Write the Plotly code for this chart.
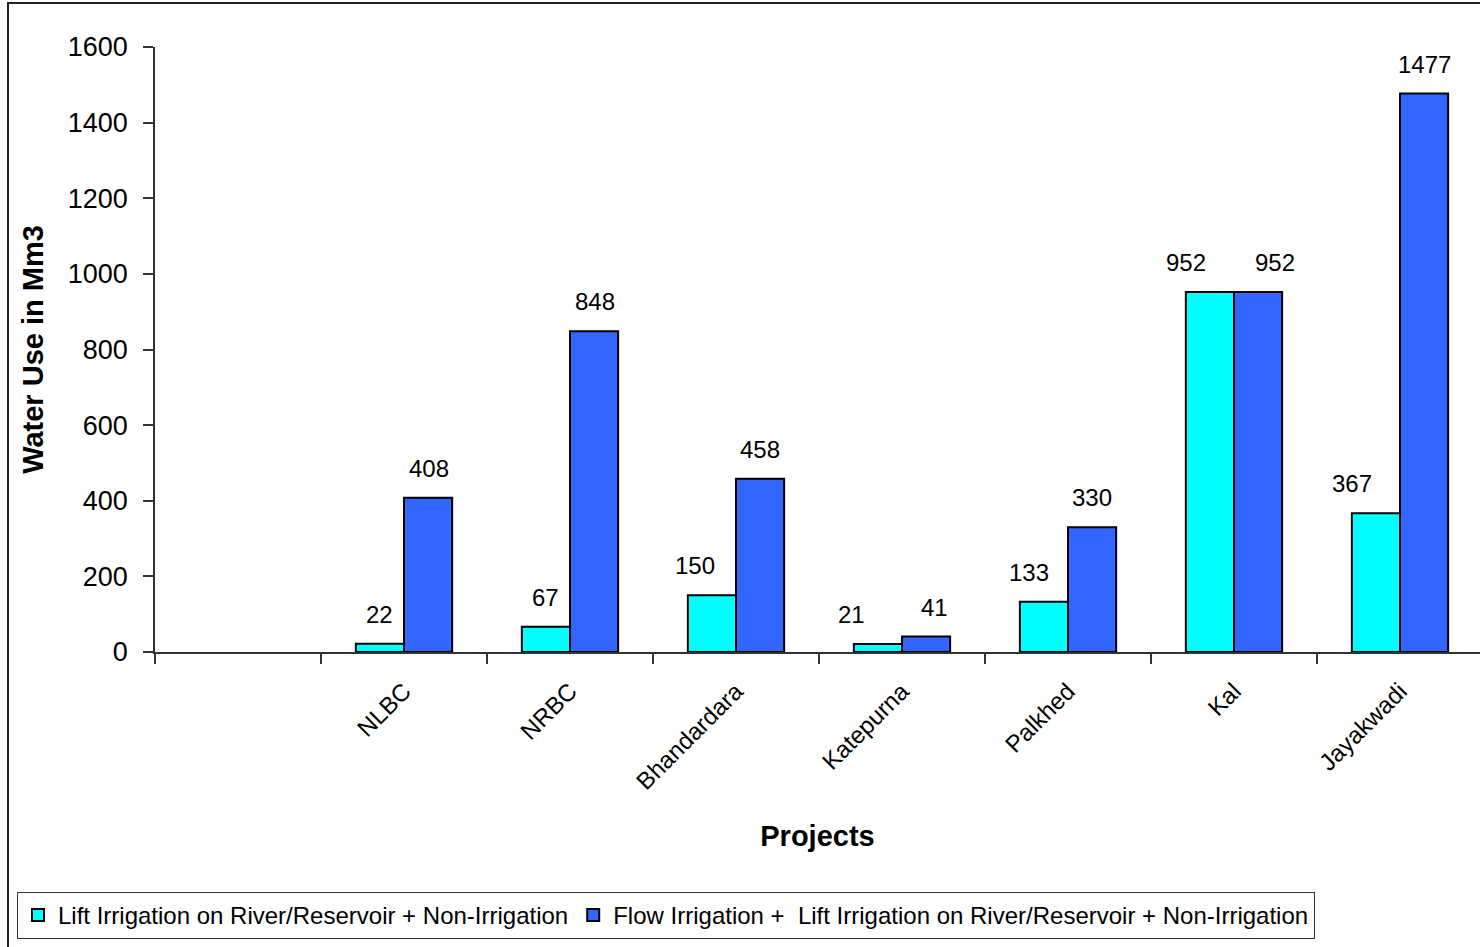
import plotly.graph_objects as go

categories = [" ", "NLBC", "NRBC", "Bhandardara", "Katepurna", "Palkhed", "Kal", "Jayakwadi"]
lift_non_irr = [None, 22, 67, 150, 21, 133, 952, 367]
flow_lift_non_irr = [None, 408, 848, 458, 41, 330, 952, 1477]
y_ticks = [0, 200, 400, 600, 800, 1000, 1200, 1400, 1600]

# horizontal nudges (px) of the value labels, as placed in the original chart
lift_label_nudge = [0, 0, 0, -17, -26, -15, -24, -24]
flow_label_nudge = [0, 1, 1, 0, 8, 0, 17, 0]

name1 = "Lift Irrigation on River/Reservoir + Non-Irrigation"
name2 = "Flow Irrigation + \u00a0Lift Irrigation on River/Reservoir + Non-Irrigation"

FONT = "Liberation Sans, Arial, sans-serif"
W, H = 1480, 947
ML, MR, MT, MB = 155, 0, 47, 295
plot_w = W - ML - MR
cat_px = 166.0
x_end = -0.5 + plot_w / cat_px
bargap = 0.42
bar_px = cat_px * (1 - bargap) / 2

fig = go.Figure()
fig.add_trace(go.Bar(x=categories, y=lift_non_irr, name=name1,
                     marker=dict(color="#00FFFF", line=dict(color="black", width=2))))
fig.add_trace(go.Bar(x=categories, y=flow_lift_non_irr, name=name2,
                     marker=dict(color="#3366FF", line=dict(color="black", width=2))))

annotations = []
for series, nudges, shift in ((lift_non_irr, lift_label_nudge, -bar_px / 2),
                              (flow_lift_non_irr, flow_label_nudge, bar_px / 2)):
    for c, v, n in zip(categories, series, nudges):
        if v is None:
            continue
        annotations.append(dict(x=c, y=v, xref="x", yref="y", text=str(v), showarrow=False,
                                xshift=shift + n, yshift=14, yanchor="bottom", xanchor="center",
                                font=dict(size=24, color="black", family=FONT)))

fig.update_layout(
    width=W, height=H,
    margin=dict(l=ML, r=MR, t=MT, b=MB, pad=0),
    paper_bgcolor="white", plot_bgcolor="white",
    font=dict(family=FONT, color="black"),
    barmode="group", bargap=bargap, bargroupgap=0,
    showlegend=True,
    legend=dict(orientation="h", xref="container", yref="container",
                x=17 / W, y=1 - 892 / H, xanchor="left", yanchor="top",
                bordercolor="#333333", borderwidth=1, bgcolor="white",
                font=dict(size=24, family=FONT), itemsizing="constant",
                traceorder="normal"),
    annotations=annotations,
    shapes=[dict(type="rect", xref="paper", yref="paper",
                 x0=(8 - ML) / plot_w, x1=1.05, y0=-0.7, y1=(652 - 3) / 605,
                 line=dict(color="#222222", width=2), fillcolor="rgba(0,0,0,0)", layer="below")],
)

fig.update_xaxes(
    type="category", range=[-0.5, x_end],
    showline=True, linecolor="#333333", linewidth=1.5,
    ticks="outside", tickson="boundaries", ticklen=10, tickcolor="#333333", tickwidth=1.5,
    tickangle=-45, tickfont=dict(size=24, family=FONT), ticklabelstandoff=14,
    showgrid=False, zeroline=False,
    title=dict(text="<b>Projects</b>", font=dict(size=29, family=FONT), standoff=32),
)
fig.update_yaxes(
    range=[0, 1600], tickvals=y_ticks, ticktext=[str(t) for t in y_ticks],
    showline=True, linecolor="#333333", linewidth=1.5,
    ticks="outside", ticklen=10, tickcolor="#333333", tickwidth=1.5,
    tickfont=dict(size=27, family=FONT), ticklabelstandoff=10,
    showgrid=False, zeroline=False,
    title=dict(text="<b>Water Use in Mm3</b>", font=dict(size=29, family=FONT), standoff=16),
)

fig.write_html("out.html")
